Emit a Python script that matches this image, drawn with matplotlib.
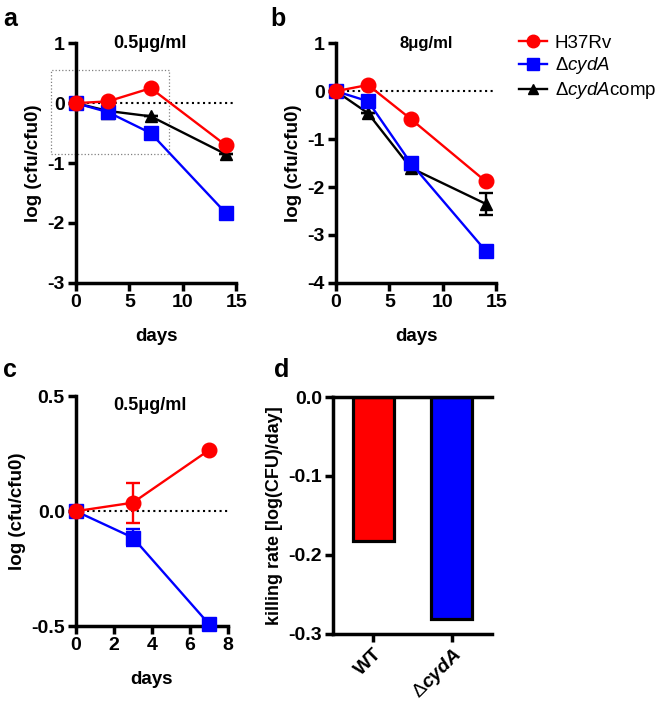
import numpy as np
import matplotlib.pyplot as plt
from matplotlib.patches import Rectangle

plt.rcParams['font.family'] = ['Liberation Sans', 'DejaVu Sans']
plt.rcParams['axes.unicode_minus'] = False
plt.rcParams['mathtext.fontset'] = 'custom'
plt.rcParams['mathtext.rm'] = 'Liberation Sans'
plt.rcParams['mathtext.it'] = 'Liberation Sans:italic'
plt.rcParams['mathtext.bf'] = 'Liberation Sans:bold'
plt.rcParams['mathtext.bfit'] = 'Liberation Sans:bold:italic'

# panel a: 0.5 ug/ml
days_a = [0, 3, 7, 14]
wt_a = [0, 0.03, 0.25, -0.70]
cyd_a = [0, -0.15, -0.50, -1.83]
comp_a = [0, -0.13, -0.22, -0.85]
comp_a_err = [0, 0.14, 0, 0]

# panel b: 8 ug/ml
days_b = [0, 3, 7, 14]
wt_b = [0, 0.13, -0.58, -1.88]
cyd_b = [0, -0.21, -1.50, -3.33]
comp_b = [0, -0.46, -1.60, -2.35]
comp_b_err = [0, 0, 0.05, 0.23]
cyd_b_err = [0, 0, 0.10, 0]

# panel c: 0.5 ug/ml, first week
days_c = [0, 3, 7]
wt_c = [0, 0.037, 0.265]
wt_c_err = [0, 0.087, 0]
cyd_c = [0, -0.115, -0.49]
cyd_c_err = [0, 0.037, 0.015]

# panel d: killing rate
strains_d = ['WT', r'$\Delta\mathbfit{cydA}$']
rate_d = [-0.182, -0.281]

RED = '#ff0000'
BLUE = '#0000ff'
BLACK = 'black'
lw_ax = 2.5

fig = plt.figure(figsize=(6.6, 7.09), dpi=100)


def style(ax):
    for s in ['top', 'right']:
        ax.spines[s].set_visible(False)
    for s in ['left', 'bottom']:
        ax.spines[s].set_linewidth(lw_ax)
    ax.tick_params(width=lw_ax, length=6, labelsize=14, direction='out', pad=2)
    for lab in ax.get_xticklabels() + ax.get_yticklabels():
        lab.set_fontweight('bold')


def series(ax, x, y, color, marker, ms, err=None, z=3):
    ax.errorbar(x, y, yerr=err, color=color, marker=marker, ms=ms, lw=1.7,
                capsize=5, capthick=1.7, elinewidth=1.7, clip_on=False, zorder=z)


# ---- a
ax = fig.add_axes([0.115, 0.601, 0.243, 0.338])
ax.axhline(0, ls=':', color='black', lw=1.5, zorder=1)
series(ax, days_a, comp_a, BLACK, '^', 8.5, comp_a_err, 3)
series(ax, days_a, cyd_a, BLUE, 's', 9.5, None, 4)
series(ax, days_a, wt_a, RED, 'o', 10.5, None, 5)
ax.add_patch(Rectangle((-2.3, -0.85), 11.0, 1.4, fill=False, ls=':',
                       ec='gray', lw=0.9, clip_on=False))
ax.set_xlim(0, 15)
ax.set_ylim(-3, 1)
ax.set_xticks([0, 5, 10, 15])
ax.set_yticks([-3, -2, -1, 0, 1])
ax.set_xlabel('days', fontsize=13.5, fontweight='bold', labelpad=12)
ax.set_ylabel('log (cfu/cfu0)', fontsize=13.5, fontweight='bold')
ax.text(0.46, 1.0, '0.5\u03bcg/ml', transform=ax.transAxes, ha='center',
        va='center', fontsize=13, fontweight='bold')
style(ax)

# ---- b
ax = fig.add_axes([0.509, 0.601, 0.243, 0.338])
ax.axhline(0, ls=':', color='black', lw=1.5, zorder=1)
series(ax, days_b, comp_b, BLACK, '^', 8.5, comp_b_err, 3)
series(ax, days_b, cyd_b, BLUE, 's', 9.5, cyd_b_err, 4)
series(ax, days_b, wt_b, RED, 'o', 10.5, None, 5)
ax.set_xlim(0, 15)
ax.set_ylim(-4, 1)
ax.set_xticks([0, 5, 10, 15])
ax.set_yticks([-4, -3, -2, -1, 0, 1])
ax.set_xlabel('days', fontsize=13.5, fontweight='bold', labelpad=12)
ax.set_ylabel('log (cfu/cfu0)', fontsize=13.5, fontweight='bold')
ax.text(0.56, 1.0, '8\u03bcg/ml', transform=ax.transAxes, ha='center',
        va='center', fontsize=12, fontweight='bold')
style(ax)

h1 = plt.Line2D([], [], color=RED, marker='o', ms=9, lw=1.7)
h2 = plt.Line2D([], [], color=BLUE, marker='s', ms=8, lw=1.7)
h3 = plt.Line2D([], [], color=BLACK, marker='^', ms=7, lw=1.7)
fig.legend([h1, h2, h3], ['H37Rv', r'$\Delta\mathit{cydA}$', r'$\Delta\mathit{cydA}$comp'],
           loc='upper left', bbox_to_anchor=(0.775, 0.962), frameon=False,
           fontsize=13.5, handlelength=1.5, handletextpad=0.4, labelspacing=0.2,
           borderaxespad=0)

# ---- c
ax = fig.add_axes([0.115, 0.117, 0.230, 0.324])
ax.axhline(0, ls=':', color='black', lw=1.5, zorder=1)
series(ax, days_c, cyd_c, BLUE, 's', 9.5, cyd_c_err, 4)
series(ax, days_c, wt_c, RED, 'o', 10.5, wt_c_err, 5)
ax.set_xlim(0, 8)
ax.set_ylim(-0.5, 0.5)
ax.set_xticks([0, 2, 4, 6, 8])
ax.set_yticks([-0.5, 0.0, 0.5])
ax.set_yticklabels(['-0.5', '0.0', '0.5'])
ax.set_xlabel('days', fontsize=13.5, fontweight='bold', labelpad=12)
ax.set_ylabel('log (cfu/cfu0)', fontsize=13.5, fontweight='bold')
ax.text(0.49, 0.96, '0.5\u03bcg/ml', transform=ax.transAxes, ha='center',
        va='center', fontsize=13, fontweight='bold')
style(ax)

# ---- d
ax = fig.add_axes([0.505, 0.106, 0.240, 0.334])
xd = np.arange(len(strains_d))
ax.bar(xd, rate_d, width=0.52, color=[RED, BLUE], edgecolor='black', lw=2.3)
ax.axhline(0, color='black', lw=lw_ax, zorder=5, clip_on=False)
ax.set_xlim(-0.51, 1.51)
ax.set_ylim(-0.3, 0)
ax.set_yticks([-0.3, -0.2, -0.1, 0.0])
ax.set_yticklabels(['-0.3', '-0.2', '-0.1', '0.0'])
ax.set_xticks(xd)
ax.set_xticklabels(strains_d, rotation=45, ha='right', rotation_mode='anchor')
ax.set_ylabel('killing rate [log(CFU)/day]', fontsize=13, fontweight='bold')
style(ax)

for lbl, x, y in [('a', 0.005, 0.99), ('b', 0.41, 0.99), ('c', 0.005, 0.495), ('d', 0.415, 0.495)]:
    fig.text(x, y, lbl, fontsize=18, fontweight='bold', va='top')

fig.savefig('out.png', dpi=100)
